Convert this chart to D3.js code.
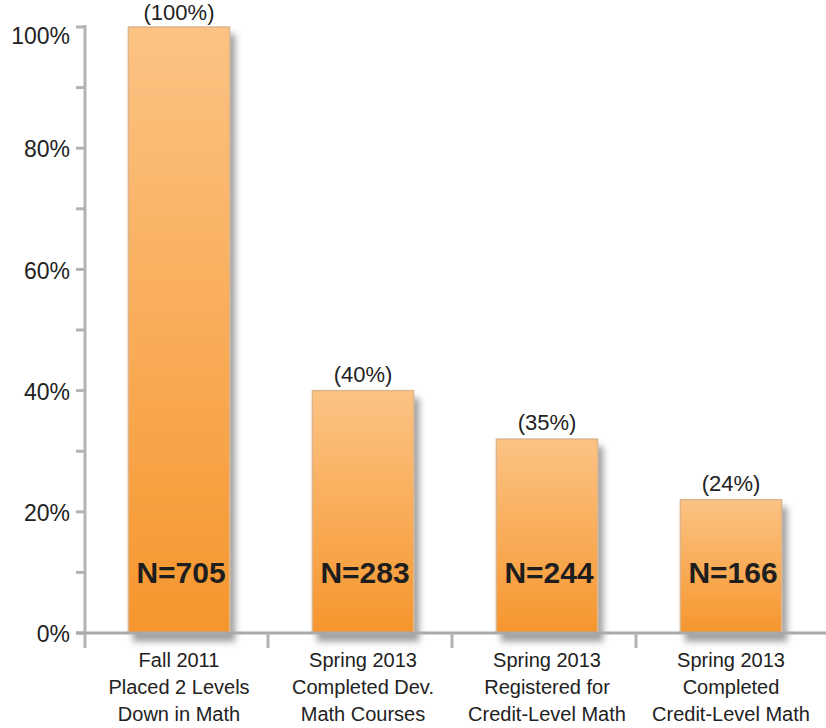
<!DOCTYPE html>
<html>
<head>
<meta charset="utf-8">
<script src="https://cdn.jsdelivr.net/npm/d3@7"></script>
<style>
  html, body { margin: 0; padding: 0; background: #fff; }
  svg { display: block; font-family: "Liberation Sans", Arial, sans-serif; }
</style>
</head>
<body>
<svg id="chart" width="826" height="728"></svg>
<script>
// ---------- data ----------
const categories = [
  ["Fall 2011", "Placed 2 Levels", "Down in Math"],
  ["Spring 2013", "Completed Dev.", "Math Courses"],
  ["Spring 2013", "Registered for", "Credit-Level Math"],
  ["Spring 2013", "Completed", "Credit-Level Math"]
];
const barValues = [100, 40, 32, 22];          // bar heights as drawn (%)
const pctLabels = ["(100%)", "(40%)", "(35%)", "(24%)"];
const nLabels = ["N=705", "N=283", "N=244", "N=166"];
const yTicks = [0, 20, 40, 60, 80, 100];
const yMinorTicks = [0, 10, 20, 30, 40, 50, 60, 70, 80, 90, 100];

const svg = d3.select("#chart");
const axisColor = "#b3b3b3";

// ---------- scales ----------
const y = d3.scaleLinear().domain([0, 100]).range([633, 27]);
const x = d3.scaleBand().domain(d3.range(categories.length))
  .range([87, 823]).paddingInner(0.45).paddingOuter(0.225);
const step = x.step();

// ---------- defs ----------
const defs = svg.append("defs");
const grad = defs.append("linearGradient").attr("id", "barGrad")
  .attr("x1", 0).attr("y1", 0).attr("x2", 0).attr("y2", 1);
grad.append("stop").attr("offset", "0%").attr("stop-color", "#fcc384");
grad.append("stop").attr("offset", "100%").attr("stop-color", "#f6962d");

const shadow = defs.append("filter").attr("id", "shadow")
  .attr("x", "-20%").attr("y", "-10%").attr("width", "150%").attr("height", "130%");
shadow.append("feDropShadow")
  .attr("dx", 5).attr("dy", 8).attr("stdDeviation", 3)
  .attr("flood-color", "#555").attr("flood-opacity", 0.55);

// ---------- bars ----------
const bars = svg.append("g");
bars.selectAll("rect.bar").data(barValues).join("rect")
  .attr("class", "bar")
  .attr("x", (d, i) => x(i))
  .attr("y", d => y(d))
  .attr("width", x.bandwidth())
  .attr("height", d => y(0) - y(d))
  .attr("fill", "url(#barGrad)")
  .attr("stroke", "#dcb48e")
  .attr("stroke-width", 1.5)
  .attr("filter", "url(#shadow)");

// ---------- axes ----------
const axisG = svg.append("g");
// y axis line
axisG.append("line")
  .attr("x1", 85).attr("x2", 85)
  .attr("y1", y(100) - 2).attr("y2", y(0) + 15)
  .attr("stroke", axisColor).attr("stroke-width", 3);
// y ticks (every 10%)
axisG.selectAll("line.ytick").data(yMinorTicks).join("line")
  .attr("class", "ytick")
  .attr("x1", 76).attr("x2", 86)
  .attr("y1", d => y(d)).attr("y2", d => y(d))
  .attr("stroke", axisColor).attr("stroke-width", 3);
// x axis line
axisG.append("line")
  .attr("x1", 76).attr("x2", 826)
  .attr("y1", y(0)).attr("y2", y(0))
  .attr("stroke", "#a9a9a9").attr("stroke-width", 3);
// category separators
const seps = d3.range(1, categories.length).map(i => 87 + i * step);
axisG.selectAll("line.xtick").data(seps).join("line")
  .attr("class", "xtick")
  .attr("x1", d => d - 3).attr("x2", d => d - 3)
  .attr("y1", y(0)).attr("y2", y(0) + 15)
  .attr("stroke", axisColor).attr("stroke-width", 3);

// y tick labels
svg.append("g").selectAll("text").data(yTicks).join("text")
  .attr("x", 70)
  .attr("y", d => y(d) + (d === 100 ? 9 : 1))
  .attr("dy", "0.36em")
  .attr("text-anchor", "end")
  .attr("font-size", 23)
  .attr("fill", "#222")
  .text(d => d + "%");

// percent labels above bars
svg.append("g").selectAll("text").data(barValues).join("text")
  .attr("x", (d, i) => x(i) + x.bandwidth() / 2)
  .attr("y", d => Math.max(y(d) - 9, 20))
  .attr("text-anchor", "middle")
  .attr("font-size", 22)
  .attr("fill", "#222")
  .text((d, i) => pctLabels[i]);

// N labels inside bars
svg.append("g").selectAll("text").data(nLabels).join("text")
  .attr("x", (d, i) => x(i) + x.bandwidth() / 2 + 2)
  .attr("y", 583)
  .attr("text-anchor", "middle")
  .attr("font-size", 30)
  .attr("font-weight", "bold")
  .attr("fill", "#1e1e1e")
  .text(d => d);

// category labels
const catG = svg.append("g").selectAll("text").data(categories).join("text")
  .attr("text-anchor", "middle")
  .attr("font-size", 20)
  .attr("fill", "#222");
catG.each(function (lines, i) {
  d3.select(this).selectAll("tspan").data(lines).join("tspan")
    .attr("x", x(i) + x.bandwidth() / 2)
    .attr("y", (d, j) => 667 + j * 27)
    .text(d => d);
});
</script>
</body>
</html>
